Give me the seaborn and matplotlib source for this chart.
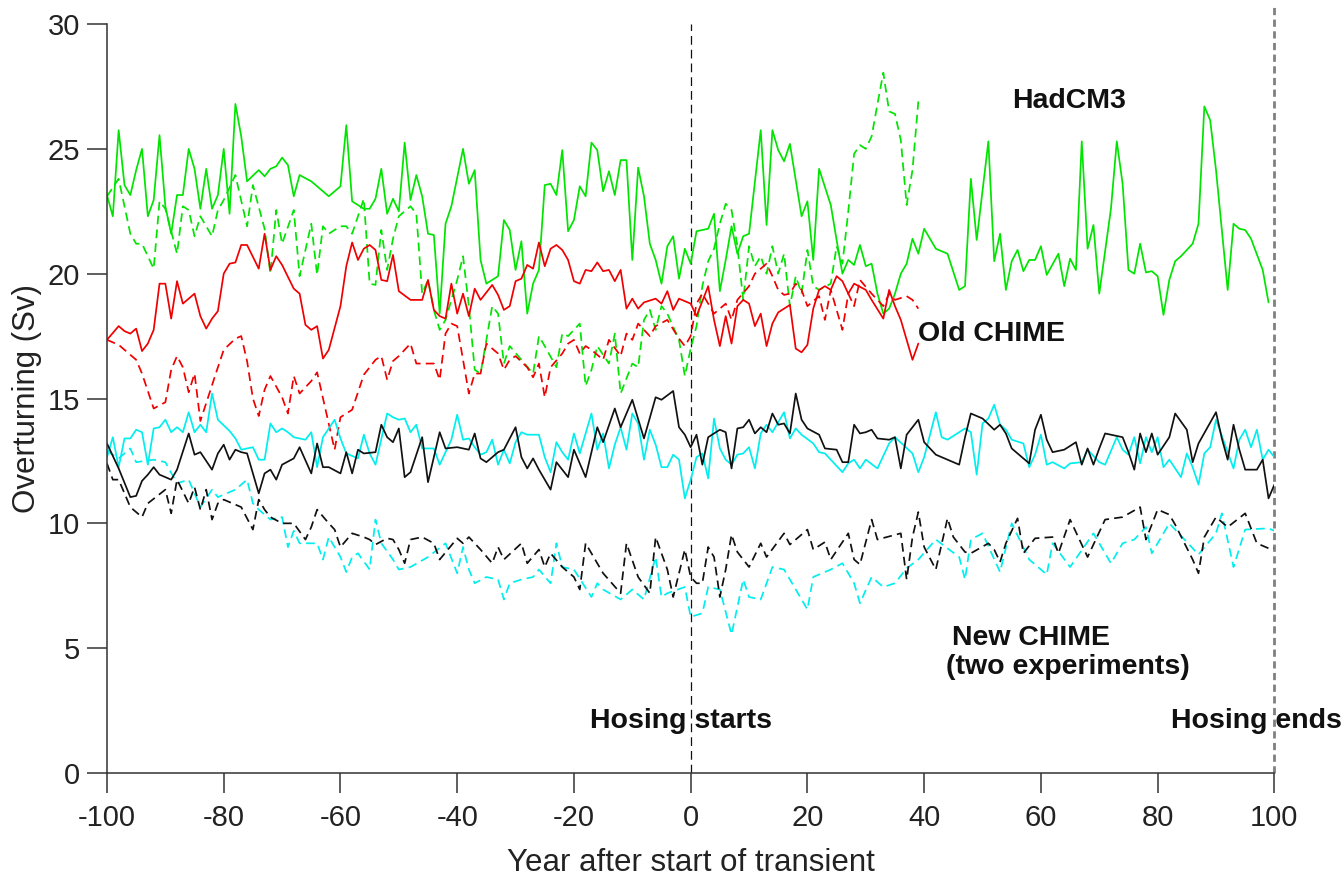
import matplotlib
matplotlib.use("Agg")
import matplotlib.pyplot as plt
import pandas as pd
import seaborn as sns

# ---- HadCM3 (green) ----
hadcm3_solid_year = [-100, -99, -98, -97, -96, -95, -94, -93, -92, -91, -90, -89, -88, -87, -86, -85, -84, -83, -82, -81,
                     -80, -79, -78, -77, -76, -74, -73, -72, -71, -70, -69, -68, -67, -65, -62, -60, -59, -58, -56, -55,
                     -54, -53, -52, -51, -50, -49, -48, -47, -46, -45, -44, -43, -42, -41, -39, -38, -37, -36, -35, -33,
                     -32, -31, -30, -29, -28, -27, -26, -25, -24, -23, -22, -21, -20, -19, -18, -17, -16, -15, -14, -13,
                     -12, -11, -10, -9, -8, -7, -6, -5, -4, -3, -2, -1, 0, 1, 2, 3, 4, 5, 6, 7,
                     8, 9, 10, 12, 13, 14, 15, 16, 17, 19, 20, 21, 22, 24, 25, 26, 27, 28, 29, 30,
                     31, 32, 33, 34, 35, 36, 37, 38, 39, 40, 42, 44, 46, 47, 48, 49, 51, 52, 53, 54,
                     55, 56, 57, 58, 59, 60, 61, 63, 64, 65, 66, 67, 68, 69, 70, 72, 73, 74, 75, 76,
                     77, 78, 79, 80, 81, 82, 83, 84, 86, 87, 88, 89, 90, 92, 93, 94, 95, 96, 98, 99]
hadcm3_solid_sv = [23.15, 22.3, 25.75, 23.55, 23.15, 24.15, 25.0, 22.3, 22.95, 25.55, 22.7, 21.6, 23.15, 23.15, 25.0, 24.2, 22.6, 24.2, 22.6, 23.15,
                   25.0, 22.4, 26.8, 25.5, 23.7, 24.15, 23.9, 24.2, 24.3, 24.65, 24.35, 23.1, 23.95, 23.7, 23.1, 23.5, 25.95, 22.9, 22.6, 22.6,
                   23.0, 24.2, 22.4, 23.0, 22.5, 25.25, 22.95, 23.95, 23.1, 21.6, 21.55, 18.4, 22.0, 22.7, 25.0, 23.6, 24.15, 20.55, 19.6, 19.9,
                   22.15, 21.75, 20.15, 21.3, 18.4, 19.6, 20.15, 23.55, 23.6, 23.15, 24.95, 21.7, 22.15, 23.5, 23.1, 25.25, 24.95, 23.3, 24.1, 23.15,
                   24.55, 24.55, 20.55, 24.25, 23.1, 21.2, 20.55, 19.6, 21.1, 21.5, 19.8, 21.0, 20.4, 21.7, 21.75, 21.8, 22.4, 19.3, 20.55, 21.9,
                   20.8, 21.5, 21.6, 25.75, 21.95, 25.75, 24.95, 24.5, 25.2, 22.3, 22.9, 20.55, 24.2, 22.75, 21.35, 20.0, 20.55, 20.35, 21.15, 20.3,
                   20.4, 19.2, 18.4, 18.6, 19.2, 20.0, 20.4, 21.4, 20.8, 21.8, 21.0, 20.8, 19.35, 19.5, 23.8, 21.35, 25.3, 20.5, 21.6, 19.35,
                   20.5, 20.95, 20.1, 20.55, 20.55, 21.1, 19.95, 20.8, 19.5, 20.6, 20.15, 25.3, 21.0, 21.95, 19.2, 22.6, 25.3, 23.6, 20.15, 20.0,
                   21.2, 20.05, 20.1, 19.9, 18.35, 19.75, 20.5, 20.7, 21.2, 22.0, 26.7, 26.15, 24.15, 19.35, 22.0, 21.8, 21.75, 21.4, 20.15, 18.85]

hadcm3_dashed_year = [-100, -98, -96, -95, -94, -92, -91, -90, -88, -87, -86, -85, -84, -82, -81, -80, -78, -76, -75, -73,
                      -72, -71, -70, -68, -67, -65, -64, -63, -62, -60, -59, -58, -56, -55, -54, -53, -52, -51, -50, -48,
                      -47, -46, -45, -44, -43, -42, -40, -39, -38, -37, -36, -34, -33, -32, -31, -29, -27, -26, -25, -23,
                      -22, -21, -19, -18, -17, -16, -14, -13, -12, -10, -9, -8, -7, -6, -5, -4, -2, -1, 0, 1,
                      2, 3, 4, 5, 6, 7, 8, 9, 10, 11, 12, 13, 14, 15, 16, 17, 18, 19, 20, 21,
                      22, 24, 25, 26, 27, 28, 29, 30, 31, 32, 33, 34, 35, 36, 37, 38, 39]
hadcm3_dashed_sv = [23.1, 23.8, 21.6, 21.2, 21.2, 20.2, 22.9, 22.6, 20.8, 22.7, 22.55, 21.5, 22.3, 21.5, 22.55, 22.95, 23.95, 21.9, 23.55, 21.8,
                    20.0, 22.55, 21.2, 22.55, 19.9, 22.0, 19.95, 21.9, 21.6, 21.9, 21.9, 21.6, 23.0, 19.6, 19.55, 21.75, 20.15, 21.4, 22.3, 22.7,
                    22.4, 19.2, 19.75, 18.55, 17.75, 18.15, 19.75, 20.7, 18.7, 16.15, 16.0, 18.7, 18.4, 16.4, 17.1, 16.55, 16.0, 17.5, 17.1, 16.25,
                    17.6, 17.5, 18.0, 15.5, 16.15, 17.1, 16.4, 17.6, 15.2, 16.4, 16.25, 18.15, 18.55, 17.75, 18.7, 18.4, 17.35, 15.9, 17.0, 17.9,
                    19.5, 20.5, 21.0, 22.0, 22.8, 22.55, 21.1, 18.95, 21.1, 20.3, 20.7, 20.0, 21.1, 20.0, 20.8, 18.7, 19.9, 19.2, 20.95, 19.5,
                    19.35, 19.6, 21.1, 20.4, 22.5, 24.8, 25.15, 25.0, 25.5, 26.8, 28.05, 26.5, 26.4, 25.35, 22.75, 24.15, 26.9]

# ---- Old CHIME (red) ----
old_chime_solid_year = [-100, -98, -97, -96, -95, -94, -93, -92, -91, -90, -89, -88, -87, -85, -84, -83, -82, -81, -80, -79,
                        -78, -77, -76, -74, -73, -72, -71, -70, -68, -67, -66, -65, -64, -63, -62, -60, -59, -58, -57, -56,
                        -55, -54, -53, -52, -51, -50, -48, -46, -45, -44, -43, -42, -41, -40, -39, -38, -37, -36, -34, -33,
                        -32, -31, -30, -29, -28, -27, -26, -25, -24, -23, -22, -21, -20, -19, -18, -17, -16, -15, -14, -13,
                        -12, -11, -10, -9, -8, -6, -5, -4, -3, -2, 0, 1, 3, 4, 5, 6, 7, 8, 9, 10,
                        11, 12, 13, 14, 15, 17, 18, 19, 20, 21, 22, 23, 24, 25, 26, 27, 28, 30, 31, 33,
                        34, 35, 36, 38, 39]
old_chime_solid_sv = [17.35, 17.9, 17.7, 17.6, 17.8, 16.9, 17.2, 17.75, 19.6, 19.6, 18.2, 19.7, 18.8, 19.2, 18.3, 17.8, 18.2, 18.5, 20.0, 20.4,
                      20.45, 21.15, 21.15, 20.2, 21.6, 20.15, 20.7, 20.35, 19.4, 19.2, 17.95, 17.75, 17.9, 16.6, 16.95, 18.7, 20.3, 21.25, 20.55, 21.0,
                      21.15, 20.95, 19.75, 19.7, 20.75, 19.3, 18.95, 18.95, 19.75, 18.55, 18.3, 18.2, 19.6, 18.4, 19.2, 18.3, 19.4, 18.95, 19.55, 19.15,
                      18.55, 18.7, 19.7, 19.8, 20.35, 20.2, 21.25, 20.3, 21.0, 21.15, 20.95, 20.55, 19.7, 19.6, 20.15, 20.1, 20.45, 20.1, 20.15, 19.7,
                      20.15, 18.6, 19.0, 18.6, 18.85, 19.0, 18.8, 19.3, 18.55, 19.0, 18.8, 18.3, 19.5, 18.15, 17.1, 18.3, 17.2, 18.7, 18.95, 18.8,
                      17.9, 18.4, 17.1, 18.0, 18.45, 18.75, 17.0, 16.85, 17.15, 18.6, 19.35, 19.5, 19.35, 19.9, 19.7, 19.2, 19.6, 19.35, 18.95, 18.2,
                      19.35, 18.7, 18.15, 16.55, 17.2]

old_chime_dashed_year = [-100, -98, -95, -94, -92, -90, -89, -88, -87, -86, -85, -84, -81, -80, -78, -77, -76, -75, -74, -73,
                         -72, -70, -69, -68, -67, -65, -64, -61, -60, -58, -56, -54, -53, -52, -51, -50, -48, -47, -45, -44,
                         -43, -42, -41, -40, -39, -38, -37, -36, -35, -33, -32, -31, -30, -28, -27, -26, -25, -24, -22, -21,
                         -20, -19, -18, -17, -15, -14, -12, -11, -10, -9, -7, -6, -4, -2, -1, 0, 1, 2, 4, 6,
                         7, 8, 10, 11, 13, 14, 15, 16, 17, 18, 19, 20, 22, 23, 24, 26, 27, 28, 29, 31,
                         33, 34, 35, 37, 38, 39]
old_chime_dashed_sv = [17.35, 17.15, 16.55, 16.0, 14.6, 14.85, 16.15, 16.7, 16.25, 15.25, 16.0, 14.1, 16.25, 16.95, 17.4, 17.5, 16.5, 15.0, 14.3, 15.35,
                       15.9, 15.05, 14.4, 15.9, 15.2, 15.7, 16.05, 12.95, 14.25, 14.55, 15.95, 16.55, 16.7, 15.75, 16.5, 16.7, 17.2, 16.4, 16.4, 16.4,
                       15.75, 17.6, 18.0, 17.9, 16.55, 15.2, 16.0, 16.0, 17.2, 16.8, 16.15, 16.55, 16.7, 16.25, 15.85, 16.4, 15.05, 16.25, 16.8, 17.2,
                       17.35, 16.8, 17.1, 16.95, 16.55, 17.35, 16.7, 17.6, 17.35, 18.0, 17.5, 17.9, 18.15, 17.4, 17.1, 17.5, 18.8, 19.2, 18.4, 18.8,
                       18.15, 18.95, 19.5, 20.0, 20.4, 19.9, 19.35, 19.15, 19.2, 19.6, 19.35, 18.7, 19.1, 18.15, 19.35, 17.75, 19.2, 18.7, 19.75, 19.2,
                       18.7, 19.2, 18.95, 19.1, 18.95, 18.6]

# ---- New CHIME, two experiments (black and cyan) ----
new_chime_a_solid_year = [-100, -98, -96, -95, -94, -93, -92, -91, -90, -89, -88, -86, -85, -84, -82, -81, -80, -79, -78, -77,
                          -76, -74, -73, -72, -71, -70, -68, -67, -65, -64, -63, -62, -60, -59, -58, -57, -56, -54, -53, -52,
                          -51, -50, -49, -48, -46, -45, -44, -43, -42, -40, -38, -37, -36, -35, -33, -32, -30, -29, -28, -27,
                          -26, -24, -23, -21, -20, -18, -16, -15, -13, -12, -11, -10, -8, -6, -5, -3, -2, -1, 0, 1,
                          2, 3, 5, 6, 7, 8, 9, 10, 11, 12, 13, 14, 15, 16, 17, 18, 19, 20, 22, 23,
                          25, 26, 27, 28, 29, 30, 31, 32, 34, 35, 36, 37, 39, 40, 42, 44, 46, 47, 48, 50,
                          52, 53, 54, 55, 57, 58, 59, 60, 61, 62, 64, 66, 67, 68, 69, 70, 71, 72, 74, 75,
                          76, 77, 78, 79, 80, 82, 83, 85, 86, 87, 90, 91, 92, 93, 94, 95, 97, 98, 99, 100]
new_chime_a_solid_sv = [13.2, 12.2, 11.05, 11.1, 11.7, 11.95, 12.25, 11.95, 11.85, 11.75, 12.15, 13.6, 12.75, 12.85, 12.15, 12.8, 13.15, 12.55, 12.95, 12.85,
                        12.8, 11.2, 12.0, 12.15, 11.75, 12.35, 12.6, 13.05, 12.0, 13.2, 12.25, 12.25, 12.0, 12.85, 12.0, 12.95, 12.8, 12.85, 13.95, 13.45,
                        13.25, 13.8, 11.85, 12.05, 13.45, 11.65, 12.65, 13.65, 13.0, 13.05, 12.95, 13.6, 12.6, 12.45, 12.85, 12.95, 13.85, 12.65, 12.2, 12.6,
                        12.15, 11.35, 12.45, 11.85, 12.95, 11.85, 13.85, 13.25, 14.6, 13.85, 14.4, 14.95, 13.4, 15.05, 14.95, 15.3, 13.85, 13.55, 13.05, 13.55,
                        12.35, 13.45, 13.75, 13.65, 12.2, 13.8, 13.85, 14.15, 13.6, 13.85, 13.65, 14.4, 13.95, 14.0, 13.6, 15.2, 14.15, 13.8, 13.55, 13.0,
                        12.95, 12.45, 12.45, 13.95, 13.6, 13.65, 13.75, 13.4, 13.35, 13.45, 12.2, 13.55, 14.15, 13.25, 12.75, 12.55, 12.35, 13.45, 14.4, 14.2,
                        13.75, 13.95, 13.6, 13.0, 12.6, 12.4, 13.75, 14.35, 13.35, 12.85, 12.95, 13.25, 12.35, 13.0, 12.35, 13.0, 13.6, 13.55, 13.45, 12.85,
                        12.15, 13.6, 12.85, 13.6, 12.75, 13.45, 14.4, 13.75, 12.45, 13.2, 14.45, 13.4, 12.55, 13.95, 12.95, 12.15, 12.15, 12.55, 11.0, 11.55]

new_chime_b_solid_year = [-100, -99, -98, -97, -96, -95, -94, -93, -92, -91, -90, -89, -88, -87, -86, -85, -84, -83, -82, -81,
                          -79, -78, -77, -76, -75, -74, -73, -72, -71, -70, -69, -68, -66, -65, -64, -63, -61, -60, -59, -57,
                          -56, -55, -54, -52, -51, -50, -49, -48, -47, -46, -44, -43, -41, -40, -39, -38, -37, -36, -35, -34,
                          -33, -32, -31, -30, -29, -28, -26, -25, -24, -23, -22, -21, -20, -19, -17, -16, -15, -14, -13, -12,
                          -11, -10, -9, -8, -7, -6, -5, -4, -3, -2, -1, 0, 1, 2, 3, 4, 5, 6, 7, 8,
                          9, 10, 11, 12, 13, 14, 16, 17, 18, 19, 21, 22, 23, 24, 26, 27, 28, 29, 30, 32,
                          34, 35, 38, 39, 40, 42, 43, 44, 47, 48, 49, 50, 51, 52, 53, 54, 55, 57, 58, 59,
                          60, 61, 62, 64, 65, 67, 68, 70, 71, 73, 74, 75, 76, 77, 78, 79, 80, 81, 82, 84,
                          85, 86, 87, 88, 89, 90, 93, 94, 95, 96, 97, 98, 99, 100]
new_chime_b_solid_sv = [12.65, 13.45, 12.25, 13.4, 13.4, 13.75, 13.65, 12.35, 13.8, 13.85, 14.15, 13.65, 13.85, 13.65, 14.45, 13.65, 13.95, 13.65, 15.2, 14.15,
                        13.7, 13.4, 12.95, 13.0, 13.05, 12.55, 12.55, 14.0, 13.65, 13.8, 13.65, 13.45, 13.35, 13.65, 12.25, 13.45, 14.15, 13.4, 12.8, 12.6,
                        13.55, 12.8, 12.35, 14.4, 14.25, 14.15, 14.2, 13.65, 13.95, 13.0, 13.0, 12.35, 13.35, 14.35, 13.35, 13.4, 13.05, 12.75, 12.85, 13.35,
                        12.35, 12.95, 12.4, 13.25, 13.65, 13.55, 13.55, 12.65, 12.05, 13.25, 12.85, 12.55, 13.6, 12.8, 14.4, 12.95, 13.6, 12.2, 13.15, 13.85,
                        12.95, 14.4, 14.0, 12.55, 13.75, 13.15, 12.25, 12.25, 12.75, 12.55, 11.0, 11.75, 12.65, 12.8, 11.8, 14.2, 13.0, 12.55, 12.35, 12.75,
                        12.8, 13.05, 12.2, 13.6, 13.95, 13.65, 14.45, 13.4, 13.8, 13.55, 13.2, 12.85, 12.8, 12.55, 12.05, 12.4, 12.55, 12.2, 12.55, 12.2,
                        13.2, 13.45, 12.8, 12.05, 12.65, 14.45, 13.45, 13.35, 13.8, 13.65, 11.95, 14.0, 14.2, 14.75, 13.95, 13.75, 13.35, 13.2, 12.25, 12.75,
                        13.55, 12.35, 12.45, 12.2, 12.4, 12.45, 12.95, 12.45, 12.35, 13.45, 12.95, 12.75, 13.45, 12.4, 13.45, 12.85, 13.45, 12.25, 12.55, 11.85,
                        12.8, 12.25, 11.55, 12.8, 13.05, 14.15, 12.2, 13.35, 13.75, 13.05, 13.75, 12.55, 12.95, 12.65]

new_chime_a_dashed_year = [-100, -99, -98, -96, -94, -93, -90, -89, -88, -86, -85, -84, -83, -82, -81, -80, -77, -75, -74, -73,
                           -72, -70, -68, -66, -65, -64, -62, -61, -60, -58, -56, -55, -54, -52, -51, -50, -49, -48, -46, -44,
                           -43, -40, -39, -38, -36, -34, -33, -32, -29, -28, -26, -25, -24, -22, -20, -19, -18, -15, -12, -11,
                           -9, -7, -6, -4, -3, -1, 0, 1, 2, 3, 4, 5, 6, 7, 8, 10, 12, 13, 16, 17,
                           20, 21, 23, 24, 27, 28, 29, 31, 32, 36, 37, 38, 39, 40, 42, 44, 45, 47, 48, 51,
                           52, 53, 54, 56, 57, 59, 62, 63, 65, 68, 71, 74, 77, 78, 80, 82, 83, 86, 87, 88,
                           90, 92, 95, 97, 99, 100]
new_chime_a_dashed_sv = [12.4, 11.75, 11.75, 10.65, 10.25, 10.8, 11.35, 10.4, 11.75, 10.8, 11.45, 10.55, 11.35, 10.15, 10.8, 10.95, 10.65, 9.75, 10.95, 10.55,
                         10.25, 10.0, 10.0, 9.35, 9.85, 10.55, 10.0, 9.75, 9.05, 9.6, 9.45, 9.35, 9.15, 9.4, 9.35, 8.95, 8.4, 9.35, 9.45, 9.2,
                         8.55, 9.4, 9.2, 9.45, 8.95, 8.4, 9.05, 8.55, 9.2, 8.4, 8.95, 8.25, 8.8, 8.25, 7.85, 7.35, 9.2, 8.0, 7.2, 9.2,
                         7.85, 7.2, 9.45, 8.15, 7.05, 8.95, 7.85, 7.6, 7.6, 9.05, 8.65, 7.05, 8.15, 9.55, 8.85, 8.25, 9.2, 8.65, 9.6, 9.15,
                         9.75, 8.95, 9.25, 8.55, 9.6, 8.55, 8.35, 10.15, 9.35, 9.6, 7.75, 9.45, 10.45, 9.05, 8.15, 10.2, 9.45, 8.85, 8.8, 9.2,
                         8.95, 8.45, 9.2, 10.2, 8.8, 9.4, 9.45, 8.8, 10.15, 8.65, 10.15, 10.25, 10.65, 9.35, 10.55, 10.35, 9.95, 8.55, 8.0, 9.45,
                         10.25, 9.85, 10.4, 9.2, 9.0, 9.0]

new_chime_b_dashed_year = [-100, -98, -96, -95, -92, -90, -88, -86, -84, -82, -81, -78, -76, -75, -74, -72, -70, -69, -68, -67,
                           -64, -63, -62, -60, -59, -58, -57, -55, -54, -53, -51, -50, -48, -45, -42, -40, -39, -38, -37, -35,
                           -33, -32, -31, -29, -27, -26, -24, -23, -22, -20, -17, -16, -15, -12, -10, -8, -6, -5, -4, -1,
                           0, 2, 3, 5, 7, 9, 10, 12, 14, 16, 18, 20, 21, 24, 26, 28, 29, 31, 33, 35,
                           37, 39, 42, 46, 47, 48, 50, 53, 55, 58, 61, 62, 65, 69, 72, 74, 76, 78, 79, 82,
                           87, 90, 91, 93, 95, 99, 100]
new_chime_b_dashed_sv = [12.9, 12.6, 13.0, 12.45, 12.55, 12.45, 11.6, 11.75, 10.65, 11.35, 11.05, 11.35, 11.75, 10.8, 10.55, 10.15, 10.25, 9.05, 9.7, 9.2,
                         9.2, 8.55, 9.45, 8.65, 8.05, 8.65, 8.8, 8.15, 10.15, 9.2, 8.55, 8.15, 8.25, 8.65, 9.2, 8.0, 9.05, 8.15, 7.6, 7.85,
                         7.75, 6.95, 7.6, 7.75, 7.85, 8.15, 7.6, 9.2, 8.25, 8.15, 7.05, 7.6, 7.35, 6.95, 7.35, 6.95, 8.65, 7.05, 7.2, 7.45,
                         6.25, 6.4, 7.45, 7.35, 5.55, 7.75, 7.05, 6.95, 8.25, 8.15, 7.35, 6.55, 7.85, 8.15, 8.4, 7.6, 6.8, 7.85, 7.45, 7.6,
                         8.2, 8.55, 9.35, 8.65, 7.75, 9.35, 9.6, 8.05, 10.0, 8.55, 7.95, 9.2, 8.25, 9.6, 8.4, 9.2, 9.35, 9.85, 8.8, 10.0,
                         8.75, 9.6, 10.4, 8.25, 9.75, 9.8, 9.7]

x_ticks = [-100, -80, -60, -40, -20, 0, 20, 40, 60, 80, 100]
y_ticks = [0, 5, 10, 15, 20, 25, 30]
hosing_start = 0
hosing_end = 100

GREEN = "#00e400"
RED = "#f00000"
CYAN = "#00eeee"
BLACK = "#111111"
DASH = (0, (5, 3))

series = [
    (hadcm3_solid_year, hadcm3_solid_sv, GREEN, "-"),
    (hadcm3_dashed_year, hadcm3_dashed_sv, GREEN, DASH),
    (old_chime_dashed_year, old_chime_dashed_sv, RED, DASH),
    (old_chime_solid_year, old_chime_solid_sv, RED, "-"),
    (new_chime_b_dashed_year, new_chime_b_dashed_sv, CYAN, DASH),
    (new_chime_a_dashed_year, new_chime_a_dashed_sv, BLACK, DASH),
    (new_chime_b_solid_year, new_chime_b_solid_sv, CYAN, "-"),
    (new_chime_a_solid_year, new_chime_a_solid_sv, BLACK, "-"),
]

sns.set_theme(style="white")
plt.rcParams["font.family"] = ["Liberation Sans", "DejaVu Sans"]
plt.rcParams["axes.edgecolor"] = "#333333"

fig = plt.figure(figsize=(13.44, 8.77), dpi=100)
ax = fig.add_axes([0.0796, 0.1186, 0.8686, 0.854])

for yrs, vals, col, ls in series:
    df = pd.DataFrame({"year": yrs, "sv": vals})
    sns.lineplot(data=df, x="year", y="sv", ax=ax, color=col, linestyle=ls,
                 linewidth=1.25, estimator=None, sort=False)

ax.axvline(hosing_start, color="#111111", linewidth=0.9, linestyle=(0, (7, 4)), zorder=1)
ax.axvline(hosing_end, ymin=0, ymax=1.025, color="#808080", linewidth=2.0,
           linestyle=(0, (2.6, 1.6)), clip_on=False, zorder=1)

ax.set_xlim(-100, 100)
ax.set_ylim(0, 30)
ax.set_xticks(x_ticks)
ax.set_yticks(y_ticks)
ax.set_xticklabels([str(t) for t in x_ticks])
ax.set_yticklabels([str(t) for t in y_ticks])

for side in ("top", "right"):
    ax.spines[side].set_visible(False)
for side in ("left", "bottom"):
    ax.spines[side].set_linewidth(1.1)
    ax.spines[side].set_color("#333333")

ax.tick_params(axis="both", which="major", bottom=True, left=True, direction="out",
               length=14.5, width=1.1, color="#333333", labelsize=21, labelcolor="#222222")
ax.tick_params(axis="x", pad=8)
ax.tick_params(axis="y", pad=5)

ax.set_xlabel("Year after start of transient", fontsize=22.5, color="#222222", labelpad=11)
ax.set_ylabel("Overturning (Sv)", fontsize=22.5, color="#222222", labelpad=4)

label_kw = dict(fontsize=20.5, fontweight="bold", color="#111111", va="center")
ax.text(64.9, 26.9, "HadCM3", ha="center", **label_kw)
ax.text(39.0, 17.6, "Old CHIME", ha="left", **label_kw)
ax.text(44.8, 5.4, "New CHIME", ha="left", **label_kw)
ax.text(43.8, 4.25, "(two experiments)", ha="left", **label_kw)
ax.text(-1.6, 2.1, "Hosing starts", ha="center", **label_kw)
ax.text(96.9, 2.1, "Hosing ends", ha="center", clip_on=False, **label_kw)

fig.savefig("out.png", dpi=100)
